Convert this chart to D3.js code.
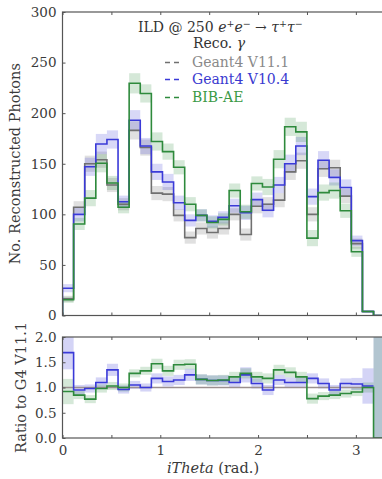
<!DOCTYPE html>
<html><head><meta charset="utf-8">
<script src="https://cdn.jsdelivr.net/npm/d3@7"></script>
<style>
html,body{margin:0;padding:0;background:#fff;}
svg{display:block;}
text{font-family:"DejaVu Serif",serif;}
</style></head>
<body>
<script>
// ---- data ----
const binWidth = 0.1136;            // rad per bin
const nBins = 29;
const seriesNames = ["Geant4 V11.1", "Geant4 V10.4", "BIB-AE"];
const g4v111 = [16.5,107,150,154,129,110,183,166,121,120,99,77,86,82,86,100,80,108,110,114,142,153,100,145,146,118,71,4,0];
const g4v104 = [27,100,147,169.5,174,112.5,193,167.5,142,132,111.5,94,99,93,97,108.5,101.5,114.5,104,129,150,167.5,117.5,153.5,136.5,126.5,74,4,0];
const bibae  = [15.5,90.5,116,150.5,131,107,229.5,219.5,172,162,146.5,110,99,92,95,123.5,102.5,130.5,127,154.5,186.5,181.5,76.5,121.5,123.5,103.5,63,4,0];
const g4v111Err = [3,6,8,8,7,6,9,8,7,7,6,6,6,6,6,6,6,7,7,7,8,8,7,8,8,7,5,1,0];
const g4v104Err = [4,7,9,10,9,6,10,8,8,8,7,6,6,6,6,7,7,7,7,8,9,9,8,9,8,8,5,1,0];
const bibaeErr  = [3,6,8,9,7,6,10,9,9,8,7,7,6,6,6,7,7,7,8,9,9,10,8,8,8,7,5,1,0];
const ratioV104 = [1.69,0.95,0.98,1.10,1.35,0.96,1.05,1.0,1.18,1.12,1.15,1.25,1.16,1.14,1.14,1.10,1.25,1.08,0.95,1.15,1.10,1.10,1.18,1.08,0.95,1.08,1.07,1.03,null];
const ratioBIB  = [0.92,0.85,0.77,0.98,1.03,1.0,1.28,1.33,1.47,1.33,1.45,1.46,1.16,1.14,1.15,1.21,1.28,1.21,1.18,1.35,1.30,1.21,0.78,0.83,0.85,0.88,0.91,1.0,0];
const ratioV104Err = [0.33,0.1,0.08,0.1,0.12,0.08,0.08,0.08,0.1,0.1,0.1,0.12,0.1,0.1,0.1,0.1,0.15,0.1,0.1,0.1,0.1,0.1,0.1,0.1,0.1,0.1,0.12,0.35,5];
const ratioBIBErr  = [0.25,0.08,0.08,0.08,0.08,0.08,0.08,0.08,0.1,0.1,0.1,0.1,0.1,0.1,0.1,0.1,0.1,0.1,0.1,0.1,0.1,0.1,0.1,0.08,0.08,0.08,0.08,0.1,5];
const mainTicks = [0,50,100,150,200,250,300];
const ratioTicks = [0.0,0.5,1.0,1.5,2.0];
const xLabelTicks = [0,1,2,3];
const xMinorTicks = [0.5,1.5,2.5];

// ---- layout ----
const W = 382, H = 479;
const colors = {gray:"#707070", blue:"#3a3ad8", green:"#2e8a3c"};
const svg = d3.select("body").append("svg").attr("width", W).attr("height", H);

const x = d3.scaleLinear().domain([0, 3.3]).range([62.5, 385.2]);
const yM = d3.scaleLinear().domain([0, 300]).range([315.5, 12]);
const yR = d3.scaleLinear().domain([0, 2]).range([438, 337]);
const edges = d3.range(nBins + 1).map(i => i * binWidth);

const defs = svg.append("defs");
defs.append("clipPath").attr("id","cm").append("rect")
  .attr("x", x(0)).attr("y", yM(300)).attr("width", x(3.3)-x(0)).attr("height", yM(0)-yM(300));
defs.append("clipPath").attr("id","cr").append("rect")
  .attr("x", x(0)).attr("y", yR(2)).attr("width", x(3.3)-x(0)).attr("height", yR(0)-yR(2));

function stepPath(vals, y, closeStart) {
  let p = [];
  vals.forEach((v, i) => {
    if (v === null || v === undefined) return;
    if (p.length === 0) {
      if (closeStart) p.push([x(edges[i]), y(0)]);
    }
    p.push([x(edges[i]), y(v)]);
    p.push([x(edges[i+1]), y(v)]);
  });
  return d3.line()(p);
}

function boxes(g, vals, errs, y, color, op) {
  g.selectAll(null).data(vals.map((v,i)=>({v: (v === null ? 1 : v), e:errs[i], i})).filter(d => d.e > 0))
    .join("rect")
    .attr("x", d => x(edges[d.i]))
    .attr("width", d => x(edges[d.i+1]) - x(edges[d.i]))
    .attr("y", d => y(d.v + d.e))
    .attr("height", d => y(d.v - d.e) - y(d.v + d.e))
    .attr("fill", color).attr("fill-opacity", op);
}

// ---- main panel ----
const gm = svg.append("g").attr("clip-path", "url(#cm)");
boxes(gm, g4v111, g4v111Err, yM, colors.gray, 0.22);
boxes(gm, g4v104, g4v104Err, yM, colors.blue, 0.2);
boxes(gm, bibae, bibaeErr, yM, colors.green, 0.2);
[[g4v111, colors.gray],[g4v104, colors.blue],[bibae, colors.green]].forEach(([vals,c]) => {
  gm.append("path").attr("d", stepPath(vals, yM, true)).attr("fill","none")
    .attr("stroke", c).attr("stroke-width", 1.6);
});

// ---- ratio panel ----
const gr = svg.append("g").attr("clip-path", "url(#cr)");
boxes(gr, ratioV104, ratioV104Err, yR, colors.blue, 0.22);
boxes(gr, ratioBIB.map((v,i)=> i===28 ? 1 : v), ratioBIBErr, yR, colors.green, 0.2);
gr.append("line").attr("x1", x(edges[0])).attr("x2", x(edges[28]))
  .attr("y1", yR(1)).attr("y2", yR(1)).attr("stroke", "#9a8f8f").attr("stroke-width", 1.3);
gr.append("path").attr("d", stepPath(ratioV104, yR, false)).attr("fill","none")
  .attr("stroke", colors.blue).attr("stroke-width", 1.6);
gr.append("path").attr("d", stepPath(ratioBIB, yR, false)).attr("fill","none")
  .attr("stroke", colors.green).attr("stroke-width", 1.6);

// ---- axes ----
function frame(y, yTicks, fmt, showXLabels) {
  const top = y.range()[1], bot = y.range()[0];
  const g = svg.append("g");
  g.append("g").attr("transform", `translate(${x(0)},0)`)
    .call(d3.axisLeft(y).tickValues(yTicks).tickFormat(fmt).tickSizeInner(-3).tickSizeOuter(0).tickPadding(6));
  g.append("g").attr("transform", `translate(${x(3.3)},0)`)
    .call(d3.axisRight(y).tickValues(yTicks).tickFormat("").tickSizeInner(-3).tickSizeOuter(0));
  g.append("g").attr("transform", `translate(0,${bot})`)
    .call(d3.axisBottom(x).tickValues(xLabelTicks.concat(xMinorTicks)).tickFormat(d => showXLabels && Number.isInteger(d) ? d3.format("d")(d) : "").tickSizeInner(-3).tickSizeOuter(0).tickPadding(7));
  g.append("g").attr("transform", `translate(0,${top})`)
    .call(d3.axisTop(x).tickValues(xLabelTicks.concat(xMinorTicks)).tickFormat("").tickSizeInner(-3).tickSizeOuter(0));
  g.selectAll(".domain").remove();
  g.selectAll(".tick line").attr("stroke", "#555");
  g.selectAll(".tick text").attr("font-family", "DejaVu Serif").attr("font-size", 13.5).attr("fill", "#3a3a3a");
  g.append("rect").attr("x", x(0)).attr("y", top).attr("width", x(3.3)-x(0)).attr("height", bot-top)
    .attr("fill","none").attr("stroke","#555").attr("stroke-width",1.2);
}
frame(yM, mainTicks, d3.format("d"), false);
frame(yR, ratioTicks, d3.format(".1f"), true);

// axis titles
svg.append("text").attr("transform", `translate(20,${(yM(0)+yM(300))/2}) rotate(-90)`)
  .attr("text-anchor","middle").attr("font-size",14.5).attr("fill","#3a3a3a")
  .text("No. Reconstructed Photons");
svg.append("text").attr("transform", `translate(26,${(yR(0)+yR(2))/2}) rotate(-90)`)
  .attr("text-anchor","middle").attr("font-size",14.5).attr("fill","#3a3a3a")
  .text("Ratio to G4 V11.1");
const xl = svg.append("text").attr("x", 213).attr("y", 473).attr("text-anchor","middle")
  .attr("font-size",14.5).attr("fill","#3a3a3a");
xl.append("tspan").attr("font-style","italic").text("iTheta");
xl.append("tspan").text(" (rad.)");

// ---- legend ----
const t = svg.append("text").attr("x", 138).attr("y", 32).attr("font-size", 14).attr("fill", "#333");
t.append("tspan").text("ILD @ 250 ");
t.append("tspan").attr("font-style","italic").text("e");
t.append("tspan").attr("font-size",9.5).attr("dy",-5).text("+");
t.append("tspan").attr("font-style","italic").attr("dy",5).text("e");
t.append("tspan").attr("font-size",9.5).attr("dy",-5).text("−");
t.append("tspan").attr("dy",5).text(" → ");
t.append("tspan").attr("font-style","italic").text("τ");
t.append("tspan").attr("font-size",9.5).attr("dy",-5).text("+");
t.append("tspan").attr("font-style","italic").attr("dy",5).text("τ");
t.append("tspan").attr("font-size",9.5).attr("dy",-5).text("−");

const r = svg.append("text").attr("x", 193).attr("y", 48).attr("font-size", 14).attr("fill", "#333");
r.append("tspan").text("Reco. ");
r.append("tspan").attr("font-style","italic").text("γ");

const legY = [67, 84, 102];
const legC = [colors.gray, colors.blue, colors.green];
const legText = ["#8a8a8a", "#3a3ad0", "#3a9a45"];
seriesNames.forEach((name, i) => {
  svg.append("line").attr("x1",165).attr("x2",181).attr("y1",legY[i]-4.5).attr("y2",legY[i]-4.5)
    .attr("stroke", legC[i]).attr("stroke-width",1.4).attr("stroke-dasharray","5,4");
  svg.append("text").attr("x",192).attr("y",legY[i]).attr("font-size",14).attr("fill",legText[i]).text(name);
});
</script>
</body></html>
